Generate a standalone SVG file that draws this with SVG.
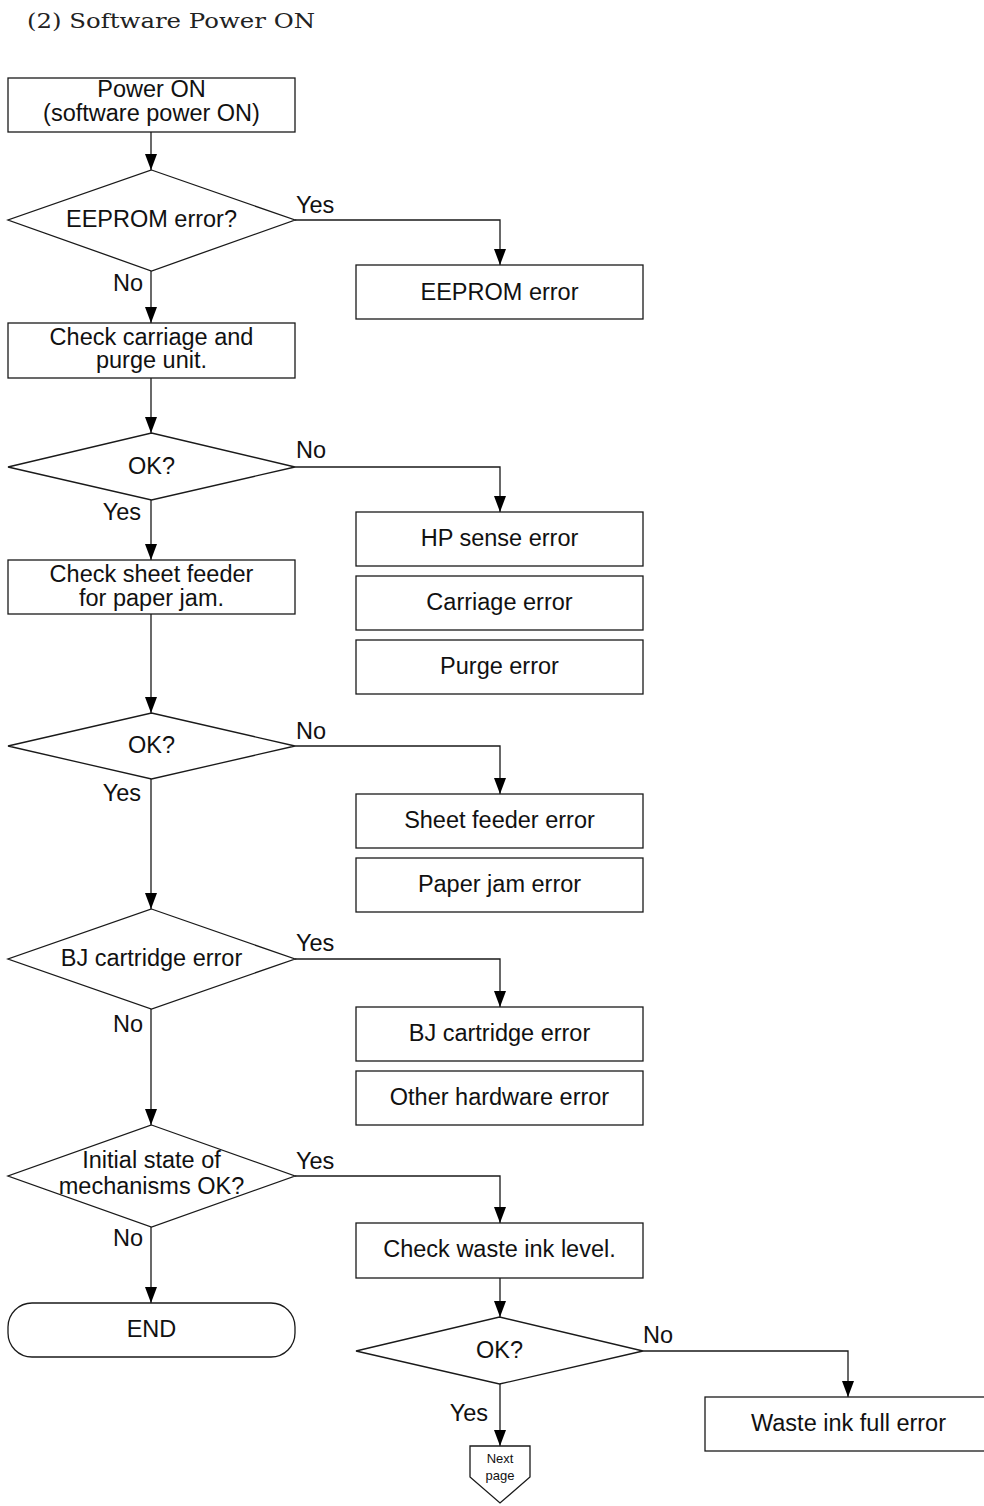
<svg xmlns="http://www.w3.org/2000/svg" width="984" height="1506" viewBox="0 0 984 1506">
<style>
.s{fill:#fff;stroke:#1a1a1a;stroke-width:1.3}
.t{font-family:"Liberation Sans",Arial,sans-serif;font-size:23.5px;fill:#111;text-anchor:middle}
.l{font-family:"Liberation Sans",Arial,sans-serif;font-size:23.5px;fill:#111}
.e{text-anchor:end}
.c{fill:none;stroke:#1a1a1a;stroke-width:1.3}
</style>
<defs>
<marker id="a" markerUnits="userSpaceOnUse" markerWidth="16" markerHeight="12" viewBox="0 0 16 12" refX="16" refY="6" orient="auto">
<path d="M0,0 L16,6 L0,12 Z" fill="#000"/>
</marker>
</defs>
<rect width="984" height="1506" fill="#fff"/>
<text x="27" y="28" font-family="'DejaVu Serif','Liberation Serif',serif" font-size="20" fill="#222" textLength="288" lengthAdjust="spacingAndGlyphs">(2) Software Power ON</text>

<g id="connectors">
<path class="c" d="M151,132 V170" marker-end="url(#a)"/>
<path class="c" d="M295,220 H500 V265" marker-end="url(#a)"/>
<path class="c" d="M151,271 V323" marker-end="url(#a)"/>
<path class="c" d="M151,378 V433" marker-end="url(#a)"/>
<path class="c" d="M295,467 H500 V512" marker-end="url(#a)"/>
<path class="c" d="M151,500 V560" marker-end="url(#a)"/>
<path class="c" d="M151,614 V713" marker-end="url(#a)"/>
<path class="c" d="M295,746 H500 V794" marker-end="url(#a)"/>
<path class="c" d="M151,779 V909" marker-end="url(#a)"/>
<path class="c" d="M295,959 H500 V1007" marker-end="url(#a)"/>
<path class="c" d="M151,1009 V1125" marker-end="url(#a)"/>
<path class="c" d="M295,1176 H500 V1223" marker-end="url(#a)"/>
<path class="c" d="M151,1227 V1303" marker-end="url(#a)"/>
<path class="c" d="M500,1278 V1317" marker-end="url(#a)"/>
<path class="c" d="M643,1351 H848 V1397" marker-end="url(#a)"/>
<path class="c" d="M500,1384 V1446" marker-end="url(#a)"/>
<text class="l" x="296" y="213">Yes</text>
<text class="l e" x="143" y="291">No</text>
<text class="l" x="296" y="458">No</text>
<text class="l e" x="141" y="520">Yes</text>
<text class="l" x="296" y="739">No</text>
<text class="l e" x="141" y="801">Yes</text>
<text class="l" x="296" y="951">Yes</text>
<text class="l e" x="143" y="1032">No</text>
<text class="l" x="296" y="1169">Yes</text>
<text class="l e" x="143" y="1246">No</text>
<text class="l" x="643" y="1343">No</text>
<text class="l e" x="488" y="1421">Yes</text>
</g>

<g id="power-on"><rect class="s" x="8" y="78" width="287" height="54"/>
<text class="t" x="151.5" y="97">Power ON</text><text class="t" x="151.5" y="121">(software power ON)</text></g>

<g id="d-eeprom"><polygon class="s" points="151.5,170 295,220 151.5,271 8,220"/>
<text class="t" x="151.5" y="227">EEPROM error?</text></g>

<g id="eeprom-error"><rect class="s" x="356" y="265" width="287" height="54"/>
<text class="t" x="499.5" y="300">EEPROM error</text></g>

<g id="check-carriage"><rect class="s" x="8" y="323" width="287" height="55"/>
<text class="t" x="151.5" y="345">Check carriage and</text><text class="t" x="151.5" y="368">purge unit.</text></g>

<g id="d-ok1"><polygon class="s" points="151.5,433 295,467 151.5,500 8,467"/>
<text class="t" x="151.5" y="474">OK?</text></g>

<g id="hp-sense"><rect class="s" x="356" y="512" width="287" height="54"/>
<text class="t" x="499.5" y="546">HP sense error</text></g>
<g id="carriage-error"><rect class="s" x="356" y="576" width="287" height="54"/>
<text class="t" x="499.5" y="610">Carriage error</text></g>
<g id="purge-error"><rect class="s" x="356" y="640" width="287" height="54"/>
<text class="t" x="499.5" y="674">Purge error</text></g>

<g id="check-sheet"><rect class="s" x="8" y="560" width="287" height="54"/>
<text class="t" x="151.5" y="582">Check sheet feeder</text><text class="t" x="151.5" y="606">for paper jam.</text></g>

<g id="d-ok2"><polygon class="s" points="151.5,713 295,746 151.5,779 8,746"/>
<text class="t" x="151.5" y="753">OK?</text></g>

<g id="sheet-feeder-error"><rect class="s" x="356" y="794" width="287" height="54"/>
<text class="t" x="499.5" y="828">Sheet feeder error</text></g>
<g id="paper-jam-error"><rect class="s" x="356" y="858" width="287" height="54"/>
<text class="t" x="499.5" y="892">Paper jam error</text></g>

<g id="d-bj"><polygon class="s" points="151.5,909 295,959 151.5,1009 8,959"/>
<text class="t" x="151.5" y="966">BJ cartridge error</text></g>

<g id="bj-error"><rect class="s" x="356" y="1007" width="287" height="54"/>
<text class="t" x="499.5" y="1041">BJ cartridge error</text></g>
<g id="other-hw-error"><rect class="s" x="356" y="1071" width="287" height="54"/>
<text class="t" x="499.5" y="1105">Other hardware error</text></g>

<g id="d-initial"><polygon class="s" points="151.5,1125 295,1176 151.5,1227 8,1176"/>
<text class="t" x="151.5" y="1168">Initial state of</text><text class="t" x="151.5" y="1194">mechanisms OK?</text></g>

<g id="end"><rect class="s" x="8" y="1303" width="287" height="54" rx="24" ry="24"/>
<text class="t" x="151.5" y="1337">END</text></g>

<g id="check-waste"><rect class="s" x="356" y="1223" width="287" height="55"/>
<text class="t" x="499.5" y="1257">Check waste ink level.</text></g>

<g id="d-ok3"><polygon class="s" points="499.5,1317 643,1351 499.5,1384 356,1351"/>
<text class="t" x="499.5" y="1358">OK?</text></g>

<g id="waste-full"><rect class="s" x="705" y="1397" width="287" height="54"/>
<text class="t" x="848.5" y="1431">Waste ink full error</text></g>

<g id="next-page"><polygon class="s" points="470,1446 530,1446 530,1477 500,1503 470,1477"/>
<text x="500" y="1463" font-family="'Liberation Sans',Arial,sans-serif" font-size="13" text-anchor="middle" fill="#111">Next</text>
<text x="500" y="1480" font-family="'Liberation Sans',Arial,sans-serif" font-size="13" text-anchor="middle" fill="#111">page</text></g>
</svg>
